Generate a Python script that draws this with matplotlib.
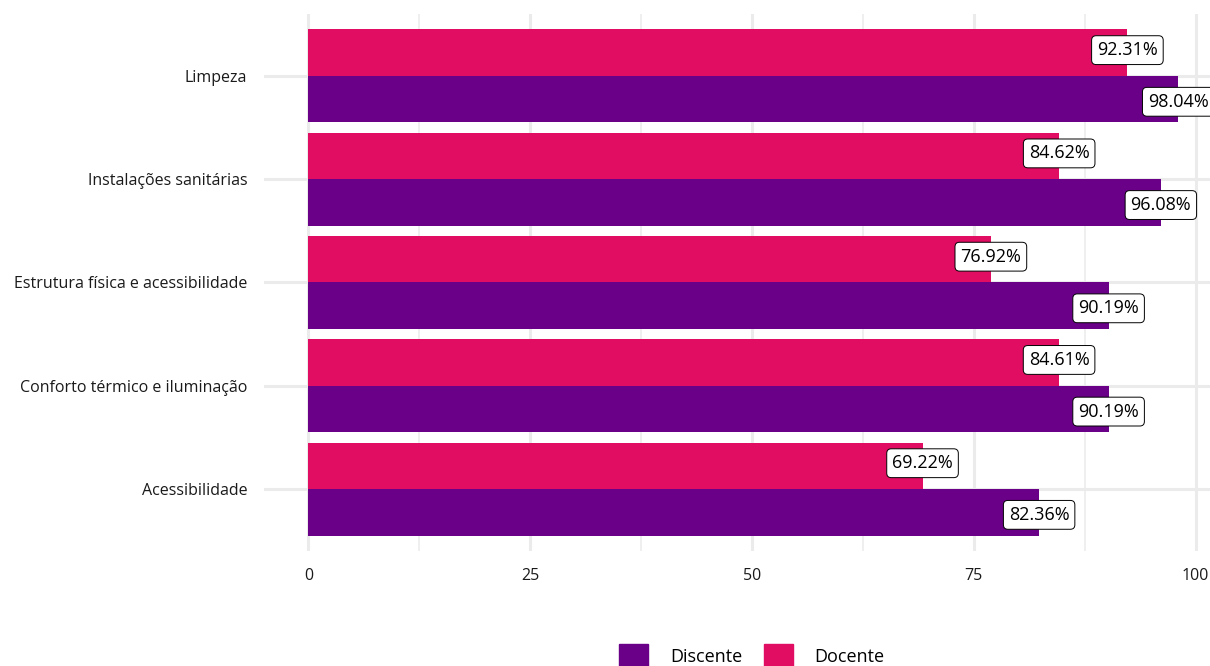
import matplotlib
matplotlib.use("Agg")
import matplotlib.pyplot as plt
from matplotlib.patches import Patch

categories = ["Limpeza", "Instalações sanitárias", "Estrutura física e acessibilidade",
              "Conforto térmico e iluminação", "Acessibilidade"]
discente = [98.04, 96.08, 90.19, 90.19, 82.36]
docente = [92.31, 84.62, 76.92, 84.61, 69.22]
xticks = [0, 25, 50, 75, 100]

C_DISC = "#6a0088"
C_DOC = "#e00d62"
GRID = "#ebebeb"

plt.rcParams["font.family"] = ["Open Sans", "DejaVu Sans"]

fig = plt.figure(figsize=(12.1, 6.66), dpi=100)
ax = fig.add_axes([264 / 1210, 1 - 551 / 666, (1240 - 264) / 1210, (551 - 14) / 666])

ys = list(range(len(categories)))
h = 0.45
ax.barh([y - h / 2 for y in ys], docente, height=h, color=C_DOC, zorder=2)
ax.barh([y + h / 2 for y in ys], discente, height=h, color=C_DISC, zorder=2)

# labels sit on the bar ends, dodged a bit wider than the bars
box = dict(boxstyle="round,pad=0.3,rounding_size=0.25", fc="white", ec="black", lw=0.7)
for y, v in zip(ys, docente):
    ax.text(v, y - 0.25, f"{v:.2f}%", ha="center", va="center", fontsize=13,
            bbox=box, zorder=3)
for y, v in zip(ys, discente):
    ax.text(v, y + 0.25, f"{v:.2f}%", ha="center", va="center", fontsize=13,
            bbox=box, zorder=3)

ax.set_xlim(-5, 105)
ax.set_ylim(len(categories) - 0.4, -0.6)
ax.set_yticks(ys)
ax.set_yticklabels(categories)
ax.set_xticks(xticks)
ax.set_xticks([12.5, 37.5, 62.5, 87.5], minor=True)
ax.grid(True, which="major", color=GRID, lw=2.2, zorder=0)
ax.grid(True, which="minor", axis="x", color=GRID, lw=1.1, zorder=0)
ax.tick_params(which="both", length=0, labelsize=11.5, colors="#1a1a1a")
ax.tick_params(axis="y", pad=12)
ax.tick_params(axis="x", pad=12)
for s in ax.spines.values():
    s.set_visible(False)
ax.set_axisbelow(True)

handles = [Patch(color=C_DISC, label="Discente"), Patch(color=C_DOC, label="Docente")]
fig.legend(handles=handles, loc="center", bbox_to_anchor=(752 / 1210, 1 - 656 / 666),
           ncol=2, frameon=False, fontsize=13, handlelength=1.6, handleheight=1.6,
           handletextpad=1.2, columnspacing=1.2)

fig.savefig("out.png", dpi=100)
